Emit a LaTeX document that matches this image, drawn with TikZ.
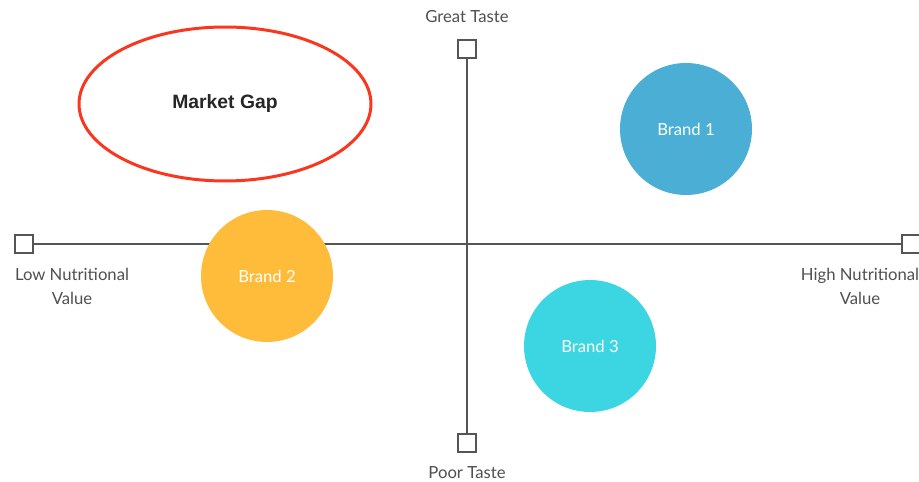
\documentclass[tikz,border=0pt]{standalone}
\usepackage{fontspec}
\setmainfont{Lato}
\newfontfamily\gapfont{Liberation Sans}
\usepackage{xcolor}
\definecolor{AxisGray}{RGB}{85,85,85}
\definecolor{LabelGray}{RGB}{80,80,80}
\definecolor{GapRed}{RGB}{250,55,30}
\definecolor{BrandBlue}{RGB}{75,175,213}
\definecolor{BrandOrange}{RGB}{255,187,58}
\definecolor{BrandCyan}{RGB}{60,214,227}
\usetikzlibrary{positioning,shapes.geometric}
\tikzset{
  % Axis end marker
  endbox/.style={
    rectangle,
    draw=AxisGray,
    fill=white,
    line width=1.2pt,
    minimum size=10.5pt,
    inner sep=0pt
  },
  % Axis line
  axisline/.style={
    draw=AxisGray,
    line width=1.2pt
  },
  % Axis text
  axislabel/.style={
    font=\fontsize{9.5}{13.6}\selectfont,
    text=LabelGray,
    align=center,
    inner sep=0pt
  },
  % Brand bubble
  brand/.style={
    circle,
    minimum size=2.64cm,
    inner sep=0pt,
    text=white,
    font=\fontsize{9.5}{12}\selectfont
  },
  % Market gap
  gap/.style={
    ellipse,
    draw=GapRed,
    line width=1.7pt,
    minimum width=5.84cm,
    minimum height=3.08cm,
    inner sep=0pt,
    font=\gapfont\bfseries\fontsize{11}{13}\selectfont,
    text=black!85
  }
}

\begin{document}
\begin{tikzpicture}[x=0.02cm, y=-0.02cm]
  \useasboundingbox[fill=white] (0,0) rectangle (919,482);

  % Axis ends
  \node[endbox] (top)    at (467,49)  {};
  \node[endbox] (bottom) at (467,443) {};
  \node[endbox] (left)   at (24,244)  {};
  \node[endbox] (right)  at (911,244) {};

  % Axes
  \draw[axisline] (top) -- (bottom);
  \draw[axisline] (left) -- (right);

  % Axis labels
  \node[axislabel] (great) at (467,17)  {Great Taste};
  \node[axislabel] (poor)  at (467,473) {Poor Taste};
  \node[axislabel] (low)   at (72,286)  {Low Nutritional\\Value};
  \node[axislabel] (high)  at (860,286) {High Nutritional\\Value};

  % Gap
  \node[gap] (mgap) at (225,104) {Market Gap};

  % Brands
  \node[brand, fill=BrandBlue]   (b1) at (686,129) {Brand 1};
  \node[brand, fill=BrandOrange] (b2) at (267,276) {Brand 2};
  \node[brand, fill=BrandCyan]   (b3) at (590,346) {Brand 3};
\end{tikzpicture}
\end{document}
